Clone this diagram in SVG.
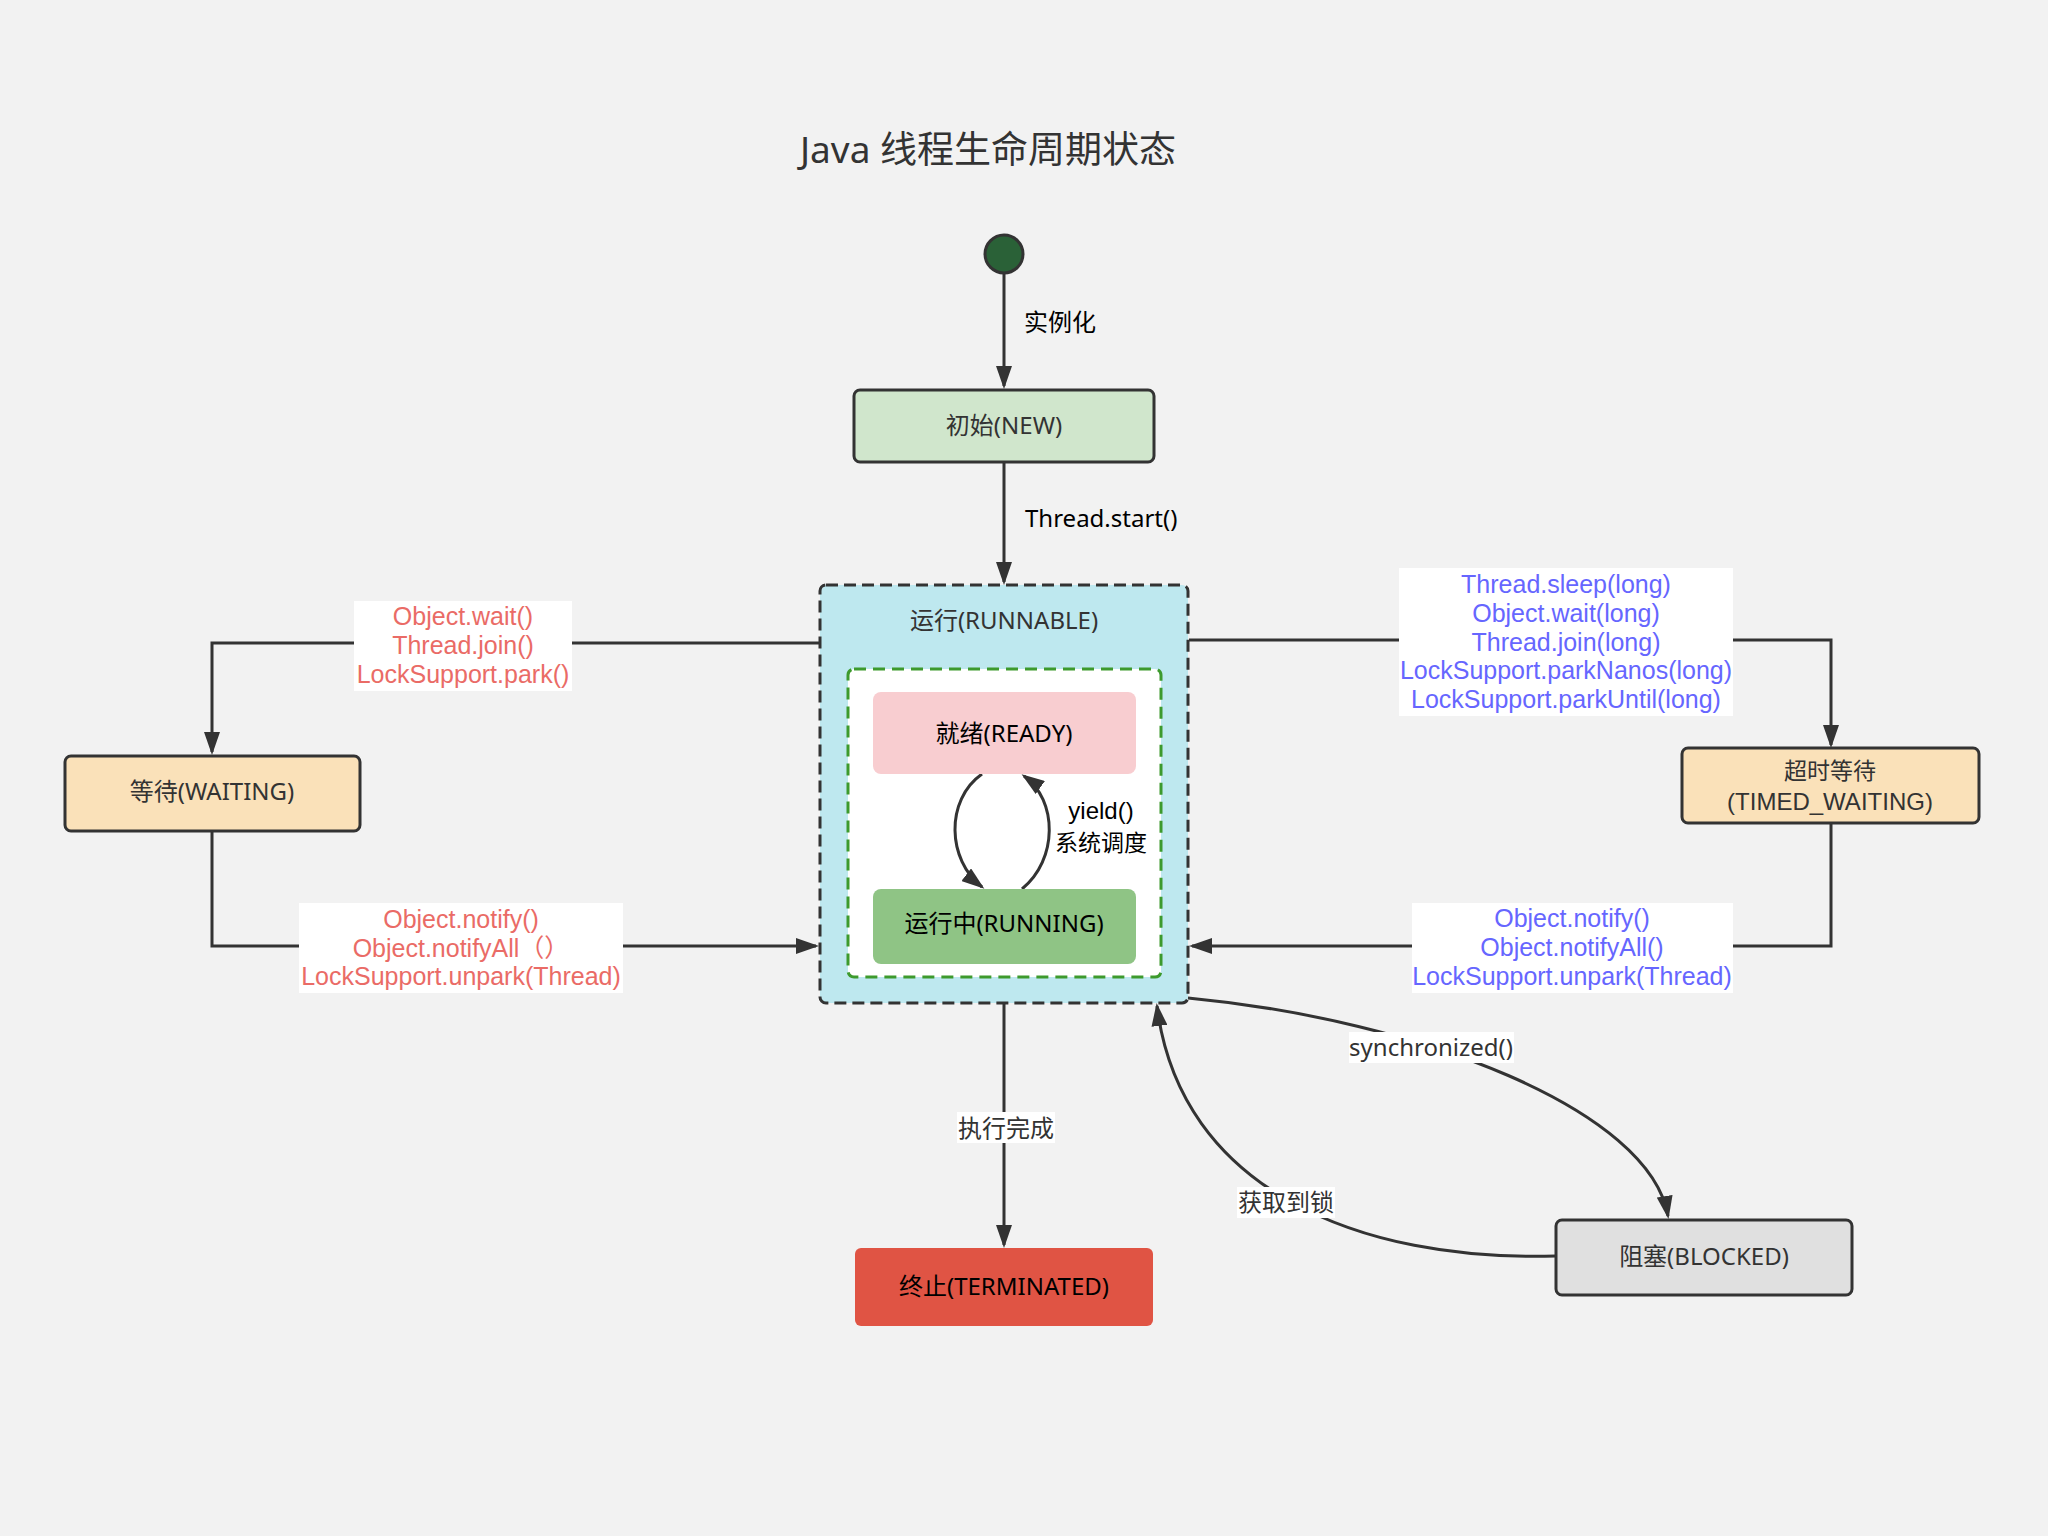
<svg xmlns="http://www.w3.org/2000/svg" width="2048" height="1536" viewBox="0 0 2048 1536">
<style>
text { font-family: "Noto Sans", "Noto Sans CJK SC", sans-serif; font-size: 24px; }
text.ml { font-family: "Liberation Sans", "Noto Sans CJK SC", sans-serif; font-size: 25px; }
.c { text-anchor: middle; }
.dark { fill: #333333; }
.blk { fill: #000000; }
.red { fill: #ea6b66; }
.blue { fill: #6666ff; }
.box { stroke: #333333; stroke-width: 3; }
.edge { fill: none; stroke: #333333; stroke-width: 3; }
.lbl { fill: #ffffff; }
</style>
<defs>
<marker id="arr" markerUnits="userSpaceOnUse" markerWidth="23" markerHeight="16" refX="20" refY="8" orient="auto">
<path d="M0,0 L23,8 L0,16 z" fill="#333333"/>
</marker>
</defs>
<rect x="0" y="0" width="2048" height="1536" fill="#f2f2f2"/>
<text id="title" x="988" y="163" class="c dark" style="font-size:37px">Java 线程生命周期状态</text>

<g id="runnable">
<rect x="820" y="585" width="368" height="418" rx="6" fill="#bee8ef" stroke="#333333" stroke-width="3" stroke-dasharray="12 6"/>
<text x="1004" y="629" class="c dark">运行(RUNNABLE)</text>
<rect x="848" y="669" width="313" height="308" rx="6" fill="#ffffff" stroke="#3d9a2d" stroke-width="3" stroke-dasharray="12 7"/>
</g>

<g id="connectors">
<path class="edge" d="M1004,273 V386" marker-end="url(#arr)"/>
<path class="edge" d="M1004,463 V582" marker-end="url(#arr)"/>
<path class="edge" d="M819,643 H212 V752" marker-end="url(#arr)"/>
<path class="edge" d="M212,831 V946 H816" marker-end="url(#arr)"/>
<path class="edge" d="M1189,640 H1831 V745" marker-end="url(#arr)"/>
<path class="edge" d="M1831,823 V946 H1192" marker-end="url(#arr)"/>
<path class="edge" d="M1004,1003 V1245" marker-end="url(#arr)"/>
<path class="edge" d="M1188,998 C1420,1020 1650,1110 1668,1216" marker-end="url(#arr)"/>
<path class="edge" d="M1556,1256 C1360,1262 1180,1190 1157,1006" marker-end="url(#arr)"/>
<path class="edge" d="M982,774 C945,800 947,860 982,887" marker-end="url(#arr)"/>
<path class="edge" d="M1022,889 C1058,860 1058,800 1024,776" marker-end="url(#arr)"/>
</g>

<g id="edge-labels">
<text x="1024" y="331" class="blk">实例化</text>
<text x="1025" y="527" class="blk">Thread.start()</text>
<text x="1101" y="819" class="c blk ml" style="font-size:24px">yield()</text>
<text x="1101" y="851" class="c blk" style="font-size:23px">系统调度</text>
<rect class="lbl" x="354" y="601" width="218" height="90"/>
<text x="463" y="625" class="c red ml">Object.wait()</text>
<text x="463" y="654" class="c red ml">Thread.join()</text>
<text x="463" y="683" class="c red ml">LockSupport.park()</text>
<rect class="lbl" x="299" y="903" width="324" height="90"/>
<text x="461" y="928" class="c red ml">Object.notify()</text>
<text x="461" y="957" class="c red ml">Object.notifyAll（）</text>
<text x="461" y="985" class="c red ml">LockSupport.unpark(Thread)</text>
<rect class="lbl" x="1399" y="568" width="334" height="148"/>
<text x="1566" y="593" class="c blue ml">Thread.sleep(long)</text>
<text x="1566" y="622" class="c blue ml">Object.wait(long)</text>
<text x="1566" y="651" class="c blue ml">Thread.join(long)</text>
<text x="1566" y="679" class="c blue ml">LockSupport.parkNanos(long)</text>
<text x="1566" y="708" class="c blue ml">LockSupport.parkUntil(long)</text>
<rect class="lbl" x="1412" y="903" width="321" height="90"/>
<text x="1572" y="927" class="c blue ml">Object.notify()</text>
<text x="1572" y="956" class="c blue ml">Object.notifyAll()</text>
<text x="1572" y="985" class="c blue ml">LockSupport.unpark(Thread)</text>
<rect class="lbl" x="957" y="1112" width="98" height="31"/>
<text x="1006" y="1137" class="c dark">执行完成</text>
<rect class="lbl" x="1349" y="1032" width="165" height="31"/>
<text x="1431" y="1056" class="c dark">synchronized()</text>
<rect class="lbl" x="1237" y="1187" width="98" height="31"/>
<text x="1286" y="1211" class="c dark">获取到锁</text>
</g>

<g id="start">
<circle cx="1004" cy="254" r="19" fill="#2a6137" stroke="#333333" stroke-width="3"/>
</g>

<g id="new">
<rect class="box" x="854" y="390" width="300" height="72" rx="6" fill="#d0e6cc"/>
<text x="1004" y="434" class="c dark">初始(NEW)</text>
</g>

<g id="ready">
<rect x="873" y="692" width="263" height="82" rx="8" fill="#f8cdd0"/>
<text x="1004" y="742" class="c blk">就绪(READY)</text>
</g>

<g id="running">
<rect x="873" y="889" width="263" height="75" rx="8" fill="#8fc485"/>
<text x="1004" y="932" class="c blk">运行中(RUNNING)</text>
</g>

<g id="waiting">
<rect class="box" x="65" y="756" width="295" height="75" rx="6" fill="#fae1b9"/>
<text x="212" y="800" class="c dark">等待(WAITING)</text>
</g>

<g id="timed-waiting">
<rect class="box" x="1682" y="748" width="297" height="75" rx="6" fill="#fae1b9"/>
<text x="1830" y="779" class="c dark" style="font-size:23px">超时等待</text>
<text x="1830" y="810" class="c dark ml" style="font-size:24px">(TIMED_WAITING)</text>
</g>

<g id="terminated">
<rect x="855" y="1248" width="298" height="78" rx="6" fill="#e05444"/>
<text x="1004" y="1295" class="c blk">终止(TERMINATED)</text>
</g>

<g id="blocked">
<rect class="box" x="1556" y="1220" width="296" height="75" rx="6" fill="#e0e0e0"/>
<text x="1704" y="1265" class="c dark">阻塞(BLOCKED)</text>
</g>
</svg>
